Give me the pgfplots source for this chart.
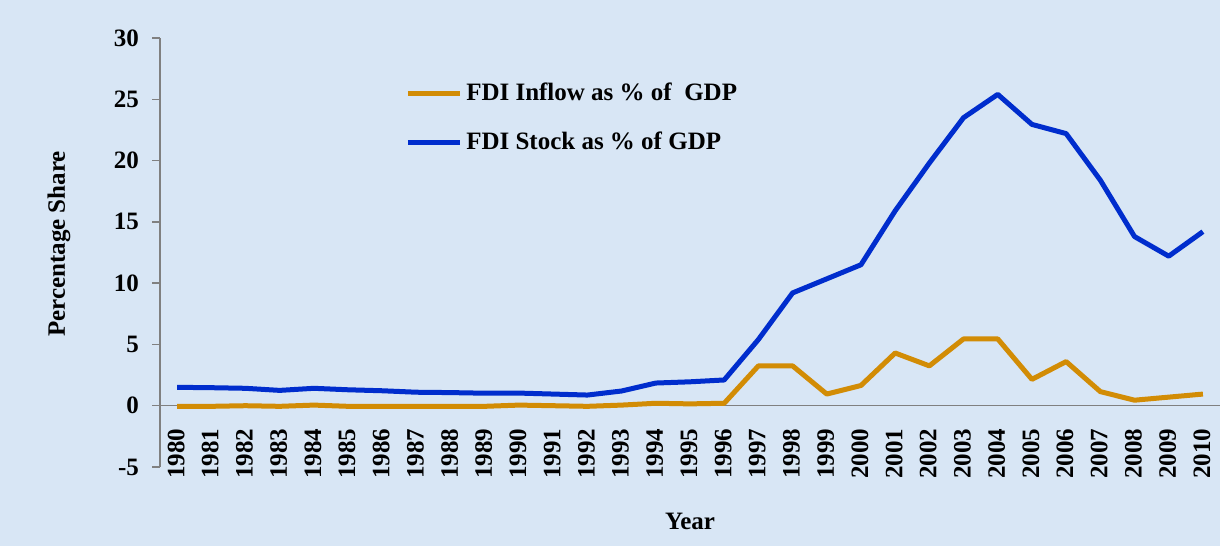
\documentclass[border=0pt]{standalone}
\usepackage{fontspec}
\setmainfont{Liberation Serif}
\usepackage{pgfplots}
\pgfplotsset{compat=1.18}
\definecolor{bgblue}{RGB}{216,230,245}
\definecolor{inflowc}{RGB}{210,140,5}
\definecolor{stockc}{RGB}{0,45,205}
\definecolor{axgray}{RGB}{128,128,128}
\begin{document}
\begin{tikzpicture}[x=1pt,y=1pt]
\fill[bgblue] (0,0) rectangle (610,273);
\useasboundingbox (0,0) rectangle (610,273);
\begin{axis}[
  at={(80pt,39.5pt)}, anchor=south west,
  scale only axis, width=530pt, height=214.5pt,
  xmin=1979.5, xmax=2010.5, ymin=-5, ymax=30,
  axis x line=middle, axis y line=left,
  axis line style={-, draw=axgray, line width=0.75pt},
  hide obscured y ticks=false,
  hide obscured x ticks=false,
  ytick={-5,0,...,30},
  xtick={1980,...,2010},
  tick align=outside,
  major tick length=4pt,
  y tick style={draw=axgray, line width=0.75pt},
  x tick style={draw=none},
  font=\fontsize{12.5}{15}\selectfont\bfseries,
  /pgf/number format/assume math mode=true,
  /pgf/number format/1000 sep={},
  xticklabel style={yshift=-4pt, xshift=-0.5pt, rotate=90, anchor=east, font=\fontsize{12.5}{15}\selectfont\bfseries},
  yticklabel style={xshift=-3pt, font=\fontsize{12.5}{15}\selectfont\bfseries},
  xlabel={Year}, ylabel={Percentage Share},
  every axis x label/.style={at={(axis description cs:0.5,-0.126)}, anchor=center, font=\fontsize{12.5}{15}\selectfont\bfseries},
  every axis y label/.style={at={(axis description cs:-0.0953,0.52)}, rotate=90, anchor=center, font=\fontsize{12.5}{15}\selectfont\bfseries},
  legend style={at={(axis description cs:0.231,0.905)}, anchor=north west, draw=none, fill=none,
    row sep=10pt, font=\fontsize{12.5}{15}\selectfont\bfseries, inner sep=0pt},
  legend cell align=left,
  legend image code/.code={\draw[#1, line width=2.5pt] (0pt,0pt) -- (26pt,0pt);},
]
\addplot[inflowc, line width=2.5pt, line join=round] coordinates {
(1980,-0.05) (1981,-0.05) (1982,0.0) (1983,-0.05) (1984,0.05) (1985,-0.05)
(1986,-0.05) (1987,-0.05) (1988,-0.05) (1989,-0.05) (1990,0.05) (1991,0.0)
(1992,-0.05) (1993,0.05) (1994,0.2) (1995,0.15) (1996,0.2) (1997,3.25)
(1998,3.25) (1999,0.95) (2000,1.65) (2001,4.3) (2002,3.25) (2003,5.45)
(2004,5.45) (2005,2.15) (2006,3.6) (2007,1.15) (2008,0.45) (2009,0.7) (2010,0.95)
};
\addlegendentry{FDI Inflow as \% of~ GDP}
\addplot[stockc, line width=2.5pt, line join=round] coordinates {
(1980,1.5) (1981,1.47) (1982,1.42) (1983,1.25) (1984,1.42) (1985,1.3)
(1986,1.22) (1987,1.1) (1988,1.07) (1989,1.02) (1990,1.03) (1991,0.95)
(1992,0.87) (1993,1.2) (1994,1.85) (1995,1.95) (1996,2.1) (1997,5.4)
(1998,9.2) (1999,10.35) (2000,11.5) (2001,15.9) (2002,19.8) (2003,23.5)
(2004,25.4) (2005,22.95) (2006,22.2) (2007,18.4) (2008,13.8) (2009,12.2) (2010,14.2)
};
\addlegendentry{FDI Stock as \% of GDP}
\end{axis}
\end{tikzpicture}
\end{document}
